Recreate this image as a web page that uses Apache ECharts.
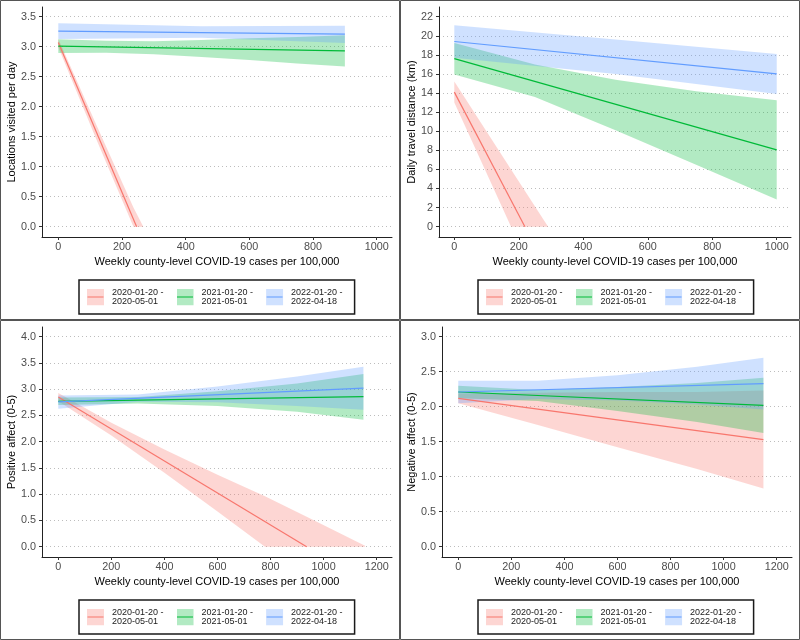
<!DOCTYPE html>
<html><head><meta charset="utf-8">
<script src="https://cdn.jsdelivr.net/npm/echarts@6/dist/echarts.min.js"></script>
<style>html,body{margin:0;padding:0;background:#fff}#c{width:800px;height:640px}</style>
</head><body><div id="c"></div>
<script>
// ---------- labels ----------
const periods = ['2020-01-20 - 2020-05-01', '2021-01-20 - 2021-05-01', '2022-01-20 - 2022-04-18'];
const xTitle = 'Weekly county-level COVID-19 cases per 100,000';
const yTitles = ['Locations visited per day', 'Daily travel distance (km)', 'Positive affect (0-5)', 'Negative affect (0-5)'];

// ---------- tick labels ----------
const xTicksTop = [0, 200, 400, 600, 800, 1000];
const xTicksBottom = [0, 200, 400, 600, 800, 1000, 1200];
const yTicksP1 = [0, 0.5, 1.0, 1.5, 2.0, 2.5, 3.0, 3.5];
const yTicksP2 = [0, 2, 4, 6, 8, 10, 12, 14, 16, 18, 20, 22];
const yTicksP3 = [0, 0.5, 1.0, 1.5, 2.0, 2.5, 3.0, 3.5, 4.0];
const yTicksP4 = [0, 0.5, 1.0, 1.5, 2.0, 2.5, 3.0];

// ---------- Panel 1: Locations visited per day ----------
const p1RedLineX = [0, 246], p1RedLineY = [3.07, 0];
const p1RedBandX = [0, 120, 236, 267], p1RedBandLo = [2.99, 1.45, 0, 0], p1RedBandHi = [3.13, 1.69, 0.32, 0];
const p1GreenLineX = [0, 900], p1GreenLineY = [3.01, 2.93];
const p1GreenBandX = [0, 150, 300, 450, 600, 750, 900];
const p1GreenBandLo = [2.895, 2.90, 2.875, 2.83, 2.78, 2.72, 2.67];
const p1GreenBandHi = [3.125, 3.10, 3.09, 3.11, 3.14, 3.16, 3.19];
const p1BlueLineX = [0, 900], p1BlueLineY = [3.26, 3.21];
const p1BlueBandX = [0, 450, 900], p1BlueBandLo = [3.13, 3.15, 3.06], p1BlueBandHi = [3.39, 3.34, 3.35];

// ---------- Panel 2: Daily travel distance ----------
const p2RedLineX = [0, 219], p2RedLineY = [14.1, 0];
const p2RedBandX = [0, 176, 291], p2RedBandLo = [13.0, 0, 0], p2RedBandHi = [15.2, 6.0, 0];
const p2GreenLineX = [0, 1000], p2GreenLineY = [17.6, 8.05];
const p2GreenBandX = [0, 250, 500, 750, 1000];
const p2GreenBandLo = [15.95, 13.6, 10.1, 6.5, 2.85];
const p2GreenBandHi = [19.25, 17.0, 15.4, 14.2, 13.25];
const p2BlueLineX = [0, 1000], p2BlueLineY = [19.4, 16.0];
const p2BlueBandX = [0, 500, 1000], p2BlueBandLo = [17.7, 16.0, 13.9], p2BlueBandHi = [21.1, 19.6, 18.1];

// ---------- Panel 3: Positive affect ----------
const p3RedLineX = [0, 936], p3RedLineY = [2.85, 0];
const p3RedBandX = [0, 200, 400, 600, 779, 961, 1156];
const p3RedBandLo = [2.77, 2.12, 1.41, 0.67, 0, 0, 0];
const p3RedBandHi = [2.93, 2.36, 1.85, 1.37, 0.96, 0.51, 0.02];
const p3GreenLineX = [0, 1150], p3GreenLineY = [2.77, 2.86];
const p3GreenBandX = [0, 300, 600, 900, 1150];
const p3GreenBandLo = [2.70, 2.73, 2.68, 2.57, 2.42];
const p3GreenBandHi = [2.84, 2.85, 2.96, 3.11, 3.29];
const p3BlueLineX = [0, 1150], p3BlueLineY = [2.76, 3.02];
const p3BlueBandX = [0, 300, 600, 900, 1150];
const p3BlueBandLo = [2.63, 2.76, 2.75, 2.68, 2.61];
const p3BlueBandHi = [2.88, 2.90, 3.05, 3.24, 3.43];

// ---------- Panel 4: Negative affect ----------
const p4RedLineX = [0, 1150], p4RedLineY = [2.12, 1.53];
const p4RedBandX = [0, 300, 600, 900, 1150];
const p4RedBandLo = [2.05, 1.74, 1.42, 1.11, 0.83];
const p4RedBandHi = [2.19, 2.20, 2.21, 2.21, 2.23];
const p4GreenLineX = [0, 1150], p4GreenLineY = [2.21, 2.02];
const p4GreenBandX = [0, 300, 600, 900, 1150];
const p4GreenBandLo = [2.12, 2.08, 1.94, 1.78, 1.625];
const p4GreenBandHi = [2.30, 2.24, 2.28, 2.34, 2.415];
const p4BlueLineX = [0, 1150], p4BlueLineY = [2.21, 2.33];
const p4BlueBandX = [0, 300, 600, 900, 1150];
const p4BlueBandLo = [2.05, 2.11, 2.09, 2.03, 1.96];
const p4BlueBandHi = [2.37, 2.37, 2.45, 2.57, 2.70];

// ---------- styling ----------
const colors = ['#F8766D', '#00BA38', '#619CFF'];
const fills = ['rgba(248,118,109,0.3)', 'rgba(0,186,56,0.3)', 'rgba(97,156,255,0.3)'];
const FONT = '"Liberation Sans", Arial, Helvetica, sans-serif';

const panels = [
  { lines: [[p1RedLineX, p1RedLineY], [p1GreenLineX, p1GreenLineY], [p1BlueLineX, p1BlueLineY]],
    bands: [[p1RedBandX, p1RedBandLo, p1RedBandHi], [p1GreenBandX, p1GreenBandLo, p1GreenBandHi], [p1BlueBandX, p1BlueBandLo, p1BlueBandHi]],
    xTicks: xTicksTop, yTicks: yTicksP1, yDec: 1 },
  { lines: [[p2RedLineX, p2RedLineY], [p2GreenLineX, p2GreenLineY], [p2BlueLineX, p2BlueLineY]],
    bands: [[p2RedBandX, p2RedBandLo, p2RedBandHi], [p2GreenBandX, p2GreenBandLo, p2GreenBandHi], [p2BlueBandX, p2BlueBandLo, p2BlueBandHi]],
    xTicks: xTicksTop, yTicks: yTicksP2, yDec: 0 },
  { lines: [[p3RedLineX, p3RedLineY], [p3GreenLineX, p3GreenLineY], [p3BlueLineX, p3BlueLineY]],
    bands: [[p3RedBandX, p3RedBandLo, p3RedBandHi], [p3GreenBandX, p3GreenBandLo, p3GreenBandHi], [p3BlueBandX, p3BlueBandLo, p3BlueBandHi]],
    xTicks: xTicksBottom, yTicks: yTicksP3, yDec: 1 },
  { lines: [[p4RedLineX, p4RedLineY], [p4GreenLineX, p4GreenLineY], [p4BlueLineX, p4BlueLineY]],
    bands: [[p4RedBandX, p4RedBandLo, p4RedBandHi], [p4GreenBandX, p4GreenBandLo, p4GreenBandHi], [p4BlueBandX, p4BlueBandLo, p4BlueBandHi]],
    xTicks: xTicksBottom, yTicks: yTicksP4, yDec: 1 }
];

// layout (pixels)
const grids = [
  { left: 42, top: 7, width: 350, height: 230 },
  { left: 439, top: 7, width: 352, height: 230 },
  { left: 42, top: 327, width: 350, height: 230 },
  { left: 442, top: 327, width: 350, height: 230 }
];
const xRanges = [[-51.2, 1048], [-47.5, 1044.3], [-61.4, 1257.7], [-61.4, 1257.7]];
const yRanges = [[-0.172, 3.662], [-1.08, 23.016], [-0.196, 4.185], [-0.147, 3.139]];
const yNameGaps = [24, 21, 24, 24];
const legendPos = [[79, 280], [478, 280], [79, 600], [478, 600]];

function legendIcon(i) {
  const svg = '<svg xmlns="http://www.w3.org/2000/svg" width="20" height="17">' +
    '<rect x="0" y="0" width="17" height="17" fill="' + colors[i] + '" fill-opacity="0.3"/>' +
    '<line x1="0.5" y1="8.5" x2="16.5" y2="8.5" stroke="' + colors[i] + '" stroke-width="1.2"/></svg>';
  return 'image://data:image/svg+xml;charset=utf-8,' + encodeURIComponent(svg);
}

const xAxis = [], yAxis = [], series = [], legend = [], graphic = [];
panels.forEach((p, k) => {
  xAxis.push({
    type: 'value', gridIndex: k, min: xRanges[k][0], max: xRanges[k][1],
    name: xTitle, nameLocation: 'middle', nameGap: 19,
    nameTextStyle: { fontSize: 11, color: '#000', fontFamily: FONT },
    axisLine: { show: true, onZero: false, lineStyle: { color: '#222', width: 1 } },
    axisTick: { show: true, length: 3, customValues: p.xTicks, lineStyle: { color: '#333' } },
    axisLabel: { customValues: p.xTicks, fontSize: 10.8, color: '#4d4d4d', margin: 5, fontFamily: FONT,
      formatter: v => String(Math.round(v)) },
    splitLine: { show: false }
  });
  yAxis.push({
    type: 'value', gridIndex: k, min: yRanges[k][0], max: yRanges[k][1],
    name: yTitles[k], nameLocation: 'middle', nameGap: yNameGaps[k],
    nameTextStyle: { fontSize: 11, color: '#000', fontFamily: FONT },
    axisLine: { show: true, onZero: false, lineStyle: { color: '#222', width: 1 } },
    axisTick: { show: true, length: 3, customValues: p.yTicks, lineStyle: { color: '#333' } },
    axisLabel: { customValues: p.yTicks, fontSize: 10.8, color: '#4d4d4d', margin: 6, fontFamily: FONT,
      formatter: v => Number(v).toFixed(p.yDec) },
    splitLine: { show: true, lineStyle: { color: '#bdbdbd', width: 1, type: [1, 3] } }
  });
  for (let i = 0; i < 3; i++) {
    const [bx, lo, hi] = p.bands[i];
    series.push({
      type: 'custom', name: periods[i] + ' CI', xAxisIndex: k, yAxisIndex: k, silent: true,
      data: bx.map((x, j) => [x, lo[j], hi[j]]),
      encode: { x: 0, y: [1, 2] },
      renderItem: function (params, api) {
        if (params.dataIndex !== 0) return null;
        const pts = [];
        for (let j = 0; j < bx.length; j++) pts.push(api.coord([bx[j], hi[j]]));
        for (let j = bx.length - 1; j >= 0; j--) pts.push(api.coord([bx[j], lo[j]]));
        return { type: 'polygon', shape: { points: pts }, style: { fill: fills[i], stroke: null } };
      }
    });
    const [lx, ly] = p.lines[i];
    series.push({
      type: 'line', name: periods[i], xAxisIndex: k, yAxisIndex: k,
      data: lx.map((x, j) => [x, ly[j]]),
      showSymbol: false, symbol: 'none', silent: true,
      lineStyle: { color: colors[i], width: 1.2 }, itemStyle: { color: colors[i] }
    });
  }
  legend.push({
    left: legendPos[k][0], top: legendPos[k][1], orient: 'horizontal',
    data: periods.map((n, i) => ({ name: n, icon: legendIcon(i) })),
    itemWidth: 20, itemHeight: 17, itemGap: 13,
    padding: [7.5, 12, 7.5, 8],
    borderColor: '#1a1a1a', borderWidth: 1.5, borderRadius: 0,
    selectedMode: false,
    formatter: n => n.replace(' - ', ' -\n'),
    textStyle: { fontSize: 9, lineHeight: 9.5, color: '#1a1a1a', fontFamily: FONT }
  });
  const ox = (k % 2) * 400, oy = Math.floor(k / 2) * 320;
  graphic.push({ type: 'rect', silent: true, shape: { x: ox + 0.5, y: oy + 0.5, width: 399, height: 319 },
    style: { fill: 'none', stroke: '#555', lineWidth: 1 } });
});

const chart = echarts.init(document.getElementById('c'), null, { renderer: 'canvas' });
chart.setOption({
  animation: false,
  backgroundColor: '#fff',
  textStyle: { fontFamily: FONT },
  grid: grids.map(g => Object.assign({ containLabel: false }, g)),
  xAxis, yAxis, series, legend, graphic
});
</script></body></html>
